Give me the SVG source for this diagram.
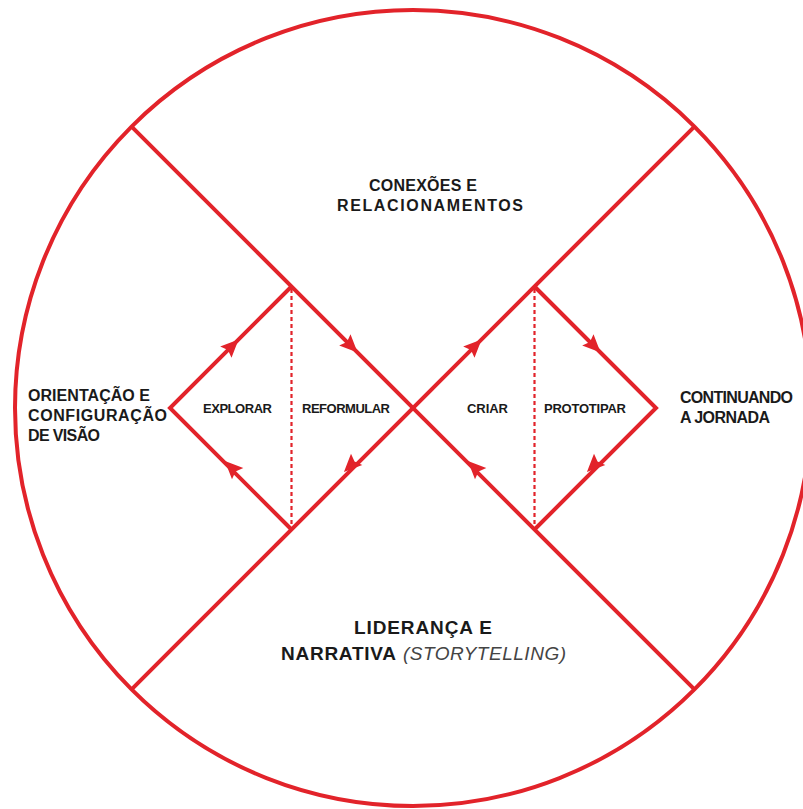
<svg xmlns="http://www.w3.org/2000/svg" xmlns:xlink="http://www.w3.org/1999/xlink" width="803" height="809" viewBox="0 0 803 809">
<style>
.ln{fill:none;stroke:#e2232a;stroke-width:4;stroke-linecap:butt;stroke-linejoin:miter}
.dot{fill:none;stroke:#e2232a;stroke-width:2.2;stroke-dasharray:4 3}
.ah{fill:#e2232a}
.t{font-family:"Liberation Sans",Arial,sans-serif;font-weight:bold;fill:#1a1a1a}
.s{font-size:13px}
.m{font-size:16px}
.b{font-size:19px}
.it{font-family:"Liberation Sans",Arial,sans-serif;font-style:italic;font-weight:normal;fill:#444;font-size:19px}
</style>
<defs>
<polygon id="arr" class="ah" points="10,0 -8,-8 -5,0 -8,8"/>
</defs>
<rect width="803" height="809" fill="#fff"/>
<g id="frame">
<circle class="ln" cx="413" cy="408" r="398"/>
</g>
<g id="connectors">
<line class="ln" x1="131.6" y1="126.6" x2="694.4" y2="689.4"/>
<line class="ln" x1="694.4" y1="126.6" x2="131.6" y2="689.4"/>
<polyline class="ln" points="291.5,286.5 170,408 291.5,529.5"/>
<polyline class="ln" points="534.5,286.5 656,408 534.5,529.5"/>
<line class="dot" x1="291.5" y1="289" x2="291.5" y2="527"/>
<line class="dot" x1="534.5" y1="289" x2="534.5" y2="527"/>
<use xlink:href="#arr" transform="translate(231.5,346.5) rotate(-45)"/>
<use xlink:href="#arr" transform="translate(350.5,345.5) rotate(45)"/>
<use xlink:href="#arr" transform="translate(351,465) rotate(135)"/>
<use xlink:href="#arr" transform="translate(232,468) rotate(-135)"/>
<use xlink:href="#arr" transform="translate(474.5,346.5) rotate(-45)"/>
<use xlink:href="#arr" transform="translate(593.5,345.5) rotate(45)"/>
<use xlink:href="#arr" transform="translate(594,465) rotate(135)"/>
<use xlink:href="#arr" transform="translate(475,468) rotate(-135)"/>
</g>
<g id="explorar"><text class="t s" x="203" y="412.5" textLength="69" lengthAdjust="spacing">EXPLORAR</text></g>
<g id="reformular"><text class="t s" x="302" y="412.5" textLength="88" lengthAdjust="spacing">REFORMULAR</text></g>
<g id="criar"><text class="t s" x="467" y="412.5" textLength="41" lengthAdjust="spacing">CRIAR</text></g>
<g id="prototipar"><text class="t s" x="544" y="412.5" textLength="82" lengthAdjust="spacing">PROTOTIPAR</text></g>
<g id="orientacao">
<text class="t m" x="28" y="401" textLength="122" lengthAdjust="spacing">ORIENTAÇÃO E</text>
<text class="t m" x="28" y="421" textLength="139" lengthAdjust="spacing">CONFIGURAÇÃO</text>
<text class="t m" x="28" y="441" textLength="72" lengthAdjust="spacing">DE VISÃO</text>
</g>
<g id="continuando">
<text class="t m" x="680" y="402.5" textLength="113" lengthAdjust="spacing">CONTINUANDO</text>
<text class="t m" x="680" y="422.5" textLength="90" lengthAdjust="spacing">A JORNADA</text>
</g>
<g id="conexoes">
<text class="t m" x="369" y="190.5" textLength="108" lengthAdjust="spacing">CONEXÕES E</text>
<text class="t m" x="337" y="211" textLength="186" lengthAdjust="spacing">RELACIONAMENTOS</text>
</g>
<g id="lideranca">
<text class="t b" x="354" y="634" textLength="138" lengthAdjust="spacing">LIDERANÇA E</text>
<text class="t b" x="281" y="659.5" textLength="115" lengthAdjust="spacing">NARRATIVA</text>
<text class="it" x="403" y="659.5" textLength="163" lengthAdjust="spacing">(STORYTELLING)</text>
</g>
</svg>
